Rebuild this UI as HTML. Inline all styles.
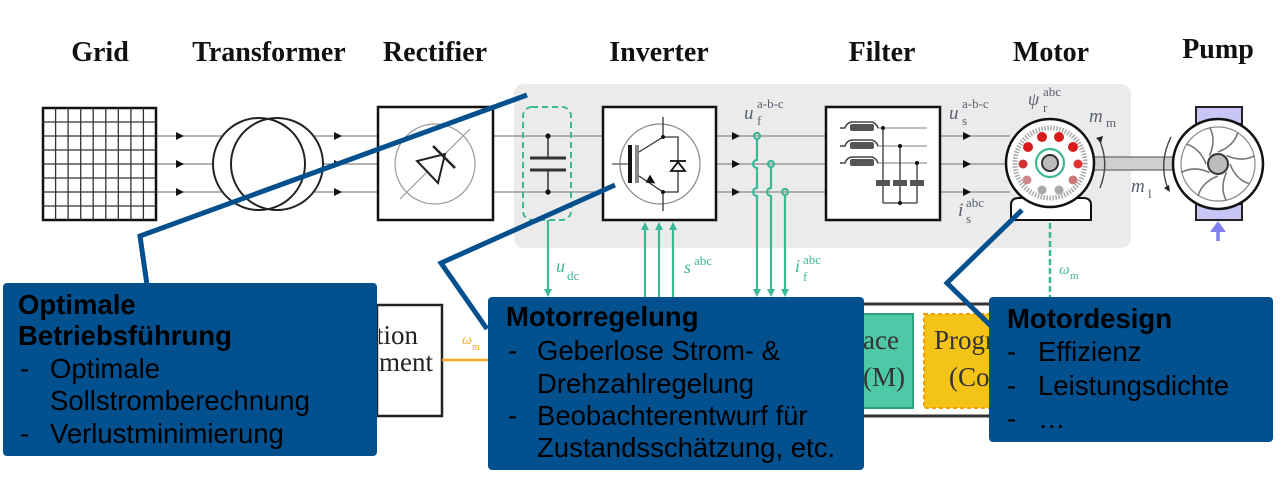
<!DOCTYPE html>
<html><head><meta charset="utf-8">
<style>
html,body{margin:0;padding:0;background:#fff;}
svg{display:block;}
.t{font-family:"Liberation Serif",serif;font-weight:bold;font-size:28px;fill:#111;}
.s{font-family:"Liberation Sans",sans-serif;font-size:27.5px;fill:#000;}
.b{font-weight:bold;}
.mi{font-family:"Liberation Serif",serif;font-style:italic;}
.mr{font-family:"Liberation Serif",serif;}
.sr{font-family:"Liberation Serif",serif;font-size:27px;}
</style></head><body>
<svg width="1280" height="483" viewBox="0 0 1280 483" xmlns="http://www.w3.org/2000/svg">
<defs>
<clipPath id="cIon"><rect x="379" y="306" width="62" height="109"/></clipPath>
<clipPath id="cTeal"><rect x="864" y="315" width="48" height="92"/></clipPath>
<clipPath id="cYel"><rect x="925" y="315" width="118" height="92"/></clipPath>
</defs>
<!-- titles -->
<text class="t" x="100" y="61" text-anchor="middle">Grid</text>
<text class="t" x="269" y="61" text-anchor="middle">Transformer</text>
<text class="t" x="435" y="61" text-anchor="middle">Rectifier</text>
<text class="t" x="659" y="61" text-anchor="middle">Inverter</text>
<text class="t" x="882" y="61" text-anchor="middle">Filter</text>
<text class="t" x="1051" y="61" text-anchor="middle">Motor</text>
<text class="t" x="1218" y="58" text-anchor="middle">Pump</text>

<!-- gray panel -->
<rect x="514" y="84" width="617" height="164" rx="10" fill="#ebebeb"/>

<!-- power lines -->
<g stroke="#999" stroke-width="1.6">
<line x1="156" y1="136" x2="1010" y2="136"/>
<line x1="156" y1="192" x2="1010" y2="192"/>
<line x1="156" y1="164" x2="378" y2="164"/>
<line x1="716" y1="164" x2="1008" y2="164"/>
</g>
<!-- arrowheads -->
<g fill="#111">
<polygon points="176,132 184,136 176,140"/><polygon points="176,160 184,164 176,168"/><polygon points="176,188 184,192 176,196"/>
<polygon points="334,132 342,136 334,140"/><polygon points="334,160 342,164 334,168"/><polygon points="334,188 342,192 334,196"/>
<polygon points="732,132 740,136 732,140"/><polygon points="732,160 740,164 732,168"/><polygon points="732,188 740,192 732,196"/>
<polygon points="963,132 971,136 963,140"/><polygon points="963,160 971,164 963,168"/><polygon points="963,188 971,192 963,196"/>
</g>

<!-- grid -->
<rect x="43" y="108" width="113" height="112" fill="#fff" stroke="#111" stroke-width="2.5"/>
<g stroke="#333" stroke-width="1.3">
<line x1="55.6" y1="108" x2="55.6" y2="220"/><line x1="68.1" y1="108" x2="68.1" y2="220"/>
<line x1="80.7" y1="108" x2="80.7" y2="220"/><line x1="93.2" y1="108" x2="93.2" y2="220"/>
<line x1="105.8" y1="108" x2="105.8" y2="220"/><line x1="118.3" y1="108" x2="118.3" y2="220"/>
<line x1="130.9" y1="108" x2="130.9" y2="220"/><line x1="143.4" y1="108" x2="143.4" y2="220"/>
<line x1="43" y1="122" x2="156" y2="122"/><line x1="43" y1="136" x2="156" y2="136"/>
<line x1="43" y1="150" x2="156" y2="150"/><line x1="43" y1="164" x2="156" y2="164"/>
<line x1="43" y1="178" x2="156" y2="178"/><line x1="43" y1="192" x2="156" y2="192"/>
<line x1="43" y1="206" x2="156" y2="206"/>
</g>

<!-- transformer -->
<circle cx="259" cy="164" r="46" fill="#fff"/>
<circle cx="277" cy="164" r="46" fill="#fff"/>
<circle cx="259" cy="164" r="46" fill="none" stroke="#222" stroke-width="2"/>
<circle cx="277" cy="164" r="46" fill="none" stroke="#222" stroke-width="2"/>

<!-- rectifier -->
<rect x="378" y="107" width="115" height="113" fill="#fff" stroke="#111" stroke-width="2.5"/>
<circle cx="435" cy="164" r="40" fill="none" stroke="#999" stroke-width="1.2"/>
<line x1="400" y1="199" x2="470" y2="129" stroke="#999" stroke-width="1.2"/>
<polygon points="417,161 438,183 445,154" fill="#fff" stroke="#222" stroke-width="2"/>
<line x1="433" y1="146" x2="455" y2="168" stroke="#222" stroke-width="2.5"/>

<!-- DC cap -->
<rect x="523" y="107" width="48" height="113" rx="9" fill="none" stroke="#3db897" stroke-width="2" stroke-dasharray="6,4"/>
<g stroke="#333">
<line x1="548" y1="136" x2="548" y2="158" stroke-width="1.5"/>
<line x1="548" y1="170" x2="548" y2="192" stroke-width="1.5"/>
<line x1="530" y1="158" x2="566" y2="158" stroke-width="3"/>
<line x1="530" y1="170" x2="566" y2="170" stroke-width="3"/>
</g>
<circle cx="548" cy="136" r="2.6" fill="#111"/><circle cx="548" cy="192" r="2.6" fill="#111"/>

<!-- inverter -->
<rect x="603" y="107" width="113" height="113" fill="#fff" stroke="#111" stroke-width="2.5"/>
<circle cx="660" cy="164" r="40" fill="none" stroke="#888" stroke-width="1.2"/>
<line x1="612" y1="164" x2="630" y2="164" stroke="#555" stroke-width="1.2"/>
<rect x="628" y="145" width="4" height="38" fill="#111"/>
<rect x="635" y="145" width="4" height="38" fill="#888"/>
<g stroke="#333" stroke-width="1.3" fill="none">
<polyline points="639,152 663,137 663,117"/>
<polyline points="663,137 678,137 678,192 663,192"/>
<polyline points="639,176 663,192 663,211"/>
</g>
<polygon points="647,176 656,181 647,185" fill="#111" transform="rotate(30 651 181)"/>
<circle cx="663" cy="137" r="2" fill="#111"/><circle cx="663" cy="192" r="2" fill="#111"/>
<polygon points="671,171 685,171 678,162" fill="#fff" stroke="#111" stroke-width="1.8"/>
<line x1="670" y1="161" x2="686" y2="161" stroke="#111" stroke-width="1.8"/>

<!-- filter -->
<rect x="826" y="107" width="114" height="113" fill="#fff" stroke="#111" stroke-width="2.5"/>
<g stroke="#aaa" stroke-width="1.5">
<line x1="877" y1="128" x2="927" y2="128"/>
<line x1="877" y1="146" x2="927" y2="146"/>
<line x1="877" y1="163" x2="927" y2="163"/>
</g>
<g stroke="#444" stroke-width="1.5" fill="none">
<path d="M840,128 L845,128 Q847,122 853,122 L872,122 Q876,123 878,128"/>
<path d="M840,146 L845,146 Q847,140 853,140 L872,140 Q876,141 878,146"/>
<path d="M840,163 L845,163 Q847,157 853,157 L872,157 Q876,158 878,163"/>
</g>
<g fill="#555">
<rect x="850" y="124" width="24" height="7" rx="2"/>
<rect x="850" y="142" width="24" height="7" rx="2"/>
<rect x="850" y="159" width="24" height="7" rx="2"/>
</g>
<g stroke="#333" stroke-width="1.3">
<line x1="883" y1="128" x2="883" y2="203"/>
<line x1="900" y1="146" x2="900" y2="203"/>
<line x1="917" y1="163" x2="917" y2="203"/>
<line x1="883" y1="203" x2="917" y2="203"/>
</g>
<g fill="#555">
<rect x="876" y="180" width="14" height="6"/>
<rect x="893" y="180" width="14" height="6"/>
<rect x="910" y="180" width="14" height="6"/>
</g>
<g fill="#111">
<circle cx="883" cy="128" r="2"/><circle cx="900" cy="146" r="2"/><circle cx="917" cy="163" r="2"/><circle cx="900" cy="203" r="2"/>
</g>

<!-- green signal lines -->
<g stroke="#3db897" stroke-width="2.2" fill="none">
<path d="M757,139 L757,160 A4,4 0 0 0 757,168 L757,188 A4,4 0 0 0 757,196 L757,292"/>
<path d="M771,167 L771,188 A4,4 0 0 0 771,196 L771,292"/>
<path d="M785,195 L785,292"/>
<circle cx="757" cy="136" r="3"/>
<circle cx="771" cy="164" r="3"/>
<circle cx="785" cy="192" r="3"/>
<line x1="548" y1="220" x2="548" y2="292"/>
<line x1="645" y1="229" x2="645" y2="297"/>
<line x1="659" y1="229" x2="659" y2="297"/>
<line x1="673" y1="229" x2="673" y2="297"/>
<line x1="1050" y1="178" x2="1050" y2="297" stroke-dasharray="6,3" stroke-width="2.5"/>
</g>
<g fill="#3db897">
<polygon points="544,289 552,289 548,297"/>
<polygon points="753,289 761,289 757,297"/>
<polygon points="767,289 775,289 771,297"/>
<polygon points="781,289 789,289 785,297"/>
<polygon points="641,230 649,230 645,222"/>
<polygon points="655,230 663,230 659,222"/>
<polygon points="669,230 677,230 673,222"/>
</g>

<!-- labels -->
<g fill="#5a6070">
<text class="mi" x="744" y="119" font-size="19">u</text>
<text class="mr" x="757" y="108" font-size="13">a-b-c</text>
<text class="mr" x="757" y="125" font-size="13">f</text>
<text class="mi" x="949" y="119" font-size="19">u</text>
<text class="mr" x="962" y="108" font-size="13">a-b-c</text>
<text class="mr" x="962" y="125" font-size="13">s</text>
<text class="mi" x="958" y="216" font-size="19">i</text>
<text class="mr" x="966" y="207" font-size="13">abc</text>
<text class="mr" x="966" y="223" font-size="13">s</text>
<text class="mi" x="1028" y="105" font-size="18">ψ</text>
<text class="mr" x="1043" y="96" font-size="13">abc</text>
<text class="mr" x="1043" y="112" font-size="13">r</text>
<text class="mi" x="1089" y="122" font-size="19">m</text>
<text class="mr" x="1106" y="127" font-size="13">m</text>
<text class="mi" x="1131" y="192" font-size="19">m</text>
<text class="mr" x="1148" y="198" font-size="13">l</text>
</g>
<g fill="#3db897">
<text class="mi" x="556" y="272" font-size="18">u</text>
<text class="mr" x="567" y="280" font-size="13">dc</text>
<text class="mi" x="684" y="273" font-size="18">s</text>
<text class="mr" x="694" y="265" font-size="13">abc</text>
<text class="mi" x="795" y="272" font-size="18">i</text>
<text class="mr" x="803" y="264" font-size="13">abc</text>
<text class="mr" x="803" y="281" font-size="13">f</text>
<text class="mi" x="1059" y="274" font-size="15">ω</text>
<text class="mr" x="1070" y="279" font-size="11">m</text>
</g>

<!-- shaft -->
<rect x="1092" y="157" width="86" height="13" fill="#cfcfcf" stroke="#666" stroke-width="1.2"/>
<!-- torque arcs -->
<g stroke="#444" stroke-width="1.4" fill="none">
<path d="M1099,139 Q1110,163 1100,188"/>
<path d="M1171,137 Q1158,163 1168,189"/>
</g>
<polygon points="1096,138 1103,136 1101,143" fill="#222"/>
<polygon points="1170,192 1164,188 1169,185" fill="#222"/>

<!-- motor base -->
<path d="M1011,220 L1011,205 Q1011,198 1019,198 L1083,198 Q1091,198 1091,205 L1091,220 Z" fill="#fff" stroke="#111" stroke-width="2"/>
<!-- motor -->
<circle cx="1050" cy="163" r="44" fill="#fff" stroke="#111" stroke-width="2.5"/>
<circle cx="1050" cy="163" r="35" fill="none" stroke="#aaa" stroke-width="5" stroke-dasharray="1.5,1.5"/>
<circle cx="1050" cy="163" r="31" fill="#fff"/>
<g fill="#d81b1b">
<circle cx="1042" cy="137" r="5"/><circle cx="1059" cy="137" r="5"/>
<circle cx="1028" cy="147" r="5"/><circle cx="1073" cy="147" r="5"/>
<circle cx="1023" cy="164" r="4.5" fill="#cc3333"/><circle cx="1078" cy="164" r="4.5" fill="#e03030"/>
<circle cx="1027" cy="180" r="4.5" fill="#c88"/><circle cx="1073" cy="180" r="4.5" fill="#c77"/>
<circle cx="1042" cy="190" r="4.5" fill="#aaa"/><circle cx="1059" cy="190" r="4.5" fill="#aaa"/>
</g>
<circle cx="1050" cy="163" r="14" fill="#fff" stroke="#3db897" stroke-width="2.2"/>
<circle cx="1050" cy="163" r="8" fill="#bbb" stroke="#333" stroke-width="2"/>

<!-- pump -->
<rect x="1196" y="107" width="46" height="17" fill="#c9c6f7" stroke="#222" stroke-width="2"/>
<rect x="1196" y="204" width="46" height="16" fill="#c9c6f7" stroke="#222" stroke-width="2"/>
<circle cx="1218" cy="164" r="45" fill="#fff" stroke="#111" stroke-width="2.5"/>
<circle cx="1218" cy="164" r="37" fill="none" stroke="#888" stroke-width="1.2"/>
<g stroke="#777" stroke-width="1.6" fill="none" transform="translate(1218 164)">
<path d="M0,-12 Q16,-18 20,-32"/>
<path d="M0,-12 Q16,-18 20,-32" transform="rotate(45)"/>
<path d="M0,-12 Q16,-18 20,-32" transform="rotate(90)"/>
<path d="M0,-12 Q16,-18 20,-32" transform="rotate(135)"/>
<path d="M0,-12 Q16,-18 20,-32" transform="rotate(180)"/>
<path d="M0,-12 Q16,-18 20,-32" transform="rotate(225)"/>
<path d="M0,-12 Q16,-18 20,-32" transform="rotate(270)"/>
<path d="M0,-12 Q16,-18 20,-32" transform="rotate(315)"/>
</g>
<circle cx="1218" cy="164" r="10" fill="#bbb" stroke="#333" stroke-width="2"/>
<line x1="1218" y1="241" x2="1218" y2="229" stroke="#8080f0" stroke-width="3.5"/>
<polygon points="1210,232 1226,232 1218,221" fill="#8080f0"/>

<!-- bottom row -->
<rect x="377" y="305" width="65" height="111" fill="#fff" stroke="#222" stroke-width="2.5"/>
<g clip-path="url(#cIon)">
<text class="sr" x="418" y="344" text-anchor="end" fill="#222" font-size="29">Optimization</text>
<text class="sr" x="433" y="371" text-anchor="end" fill="#222">Management</text>
</g>
<line x1="442" y1="360" x2="490" y2="360" stroke="#f5a623" stroke-width="2.5"/>
<text class="mi" x="462" y="344" font-size="14" fill="#f5a623">ω</text>
<text class="mr" x="472" y="350" font-size="10" fill="#f5a623">m</text>

<rect x="490" y="304" width="700" height="112" fill="#fff" stroke="#333" stroke-width="3"/>
<rect x="840" y="314" width="73" height="94" fill="#4ec9a7" stroke="#2aa27e" stroke-width="2"/>
<g clip-path="url(#cTeal)">
<text class="sr" x="899" y="349" text-anchor="end" fill="#333">Interface</text>
<text class="sr" x="905" y="386" text-anchor="end" fill="#333">(M)</text>
</g>
<rect x="924" y="314" width="120" height="94" fill="#f3c318" stroke="#f39c12" stroke-width="2" stroke-dasharray="4,3"/>
<g clip-path="url(#cYel)">
<text class="sr" x="934" y="349" fill="#333">Programm</text>
<text class="sr" x="949" y="386" fill="#333">(Code)</text>
</g>

<!-- callout lines -->
<g stroke="#03508f" stroke-width="5" fill="none" stroke-linejoin="miter">
<polyline points="147,285 140,236 527,95"/>
<polyline points="487,329 441,263 615,185"/>
<polyline points="991,326 947,283 1022,210"/>
</g>

<!-- blue boxes -->
<rect x="3" y="283" width="374" height="173" rx="4" fill="#03508f"/>
<rect x="488" y="297" width="376" height="173" rx="4" fill="#03508f"/>
<rect x="989" y="297" width="284" height="145" rx="4" fill="#03508f"/>

<g class="s">
<text class="s b" x="18" y="314">Optimale</text>
<text class="s b" x="18" y="345">Betriebsführung</text>
<text class="s" x="20" y="378">-</text><text class="s" x="50" y="378">Optimale</text>
<text class="s" x="50" y="410">Sollstromberechnung</text>
<text class="s" x="20" y="443">-</text><text class="s" x="50" y="443">Verlustminimierung</text>

<text class="s b" x="506" y="326">Motorregelung</text>
<text class="s" x="508" y="360">-</text><text class="s" x="537" y="360">Geberlose Strom- &amp;</text>
<text class="s" x="537" y="393">Drehzahlregelung</text>
<text class="s" x="508" y="425">-</text><text class="s" x="537" y="425">Beobachterentwurf für</text>
<text class="s" x="537" y="457">Zustandsschätzung, etc.</text>

<text class="s b" x="1007" y="328">Motordesign</text>
<text class="s" x="1007" y="361">-</text><text class="s" x="1038" y="361">Effizienz</text>
<text class="s" x="1007" y="395">-</text><text class="s" x="1038" y="395">Leistungsdichte</text>
<text class="s" x="1007" y="428">-</text><text class="s" x="1038" y="428">…</text>
</g>
</svg>
</body></html>
